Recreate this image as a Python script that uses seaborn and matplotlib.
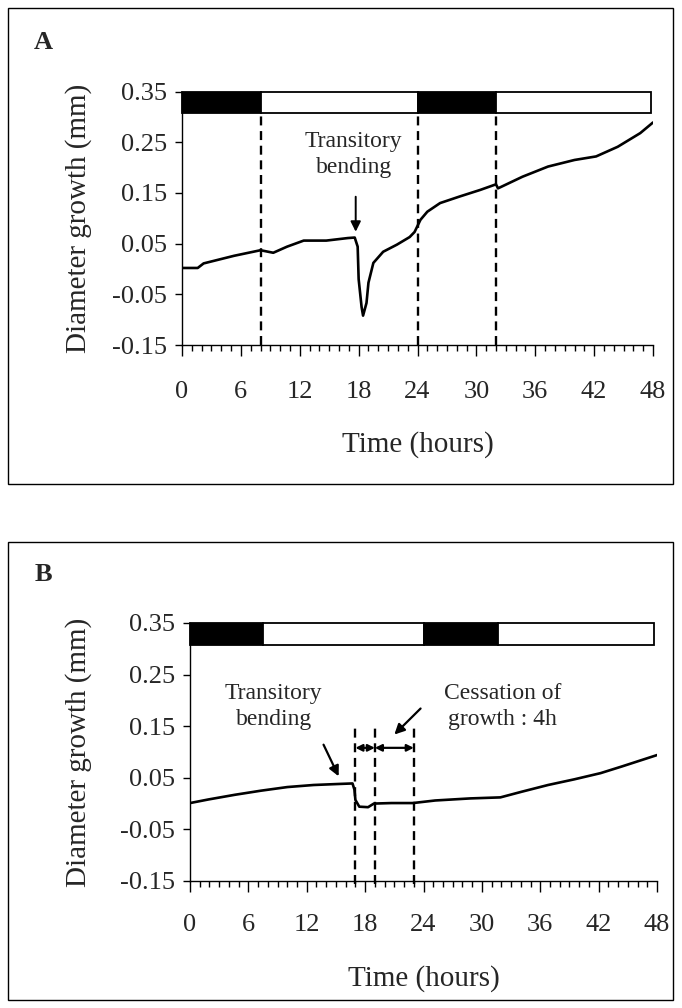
"""Diameter growth after transitory bending - two panels (A, B)"""
import matplotlib
matplotlib.use("Agg")
import matplotlib.pyplot as plt
from matplotlib.patches import Rectangle
from matplotlib.ticker import MultipleLocator
import seaborn as sns
import pandas as pd

# ---- data ----
# Panel A
hours_a = [0, 1.6, 2.2, 5.3, 8.0, 9.3, 10.7, 12.4, 14.7, 16.9, 17.6, 17.9,
           18.0, 18.3, 18.45, 18.8, 19.0, 19.5, 20.5, 21.9, 23.2, 23.7, 24.3,
           25.0, 26.3, 28.3, 30.4, 32.0, 32.2, 34.7, 37.3, 40.0, 42.2, 44.4,
           46.7, 48.0]
growth_a = [0.002, 0.002, 0.011, 0.026, 0.037, 0.032, 0.044, 0.056, 0.056,
            0.061, 0.062, 0.044, -0.020, -0.075, -0.092, -0.067, -0.027,
            0.012, 0.034, 0.048, 0.063, 0.073, 0.097, 0.113, 0.130, 0.143,
            0.156, 0.167, 0.159, 0.182, 0.202, 0.215, 0.222, 0.241, 0.268,
            0.289]
period_edges_a = [0, 8, 24, 32, 47.8]
period_dark_a = [True, False, True, False]
dashed_a = [8, 24, 32]

# Panel B
hours_b = [0, 1.9, 4.6, 7.3, 10.0, 12.7, 15.3, 16.7, 16.9, 17.0, 17.4, 18.3,
           18.9, 20.7, 22.9, 25.2, 28.8, 31.9, 34.1, 36.8, 39.5, 42.2, 44.4,
           46.2, 48.0]
growth_b = [0.001, 0.008, 0.017, 0.025, 0.032, 0.036, 0.038, 0.039, 0.027,
            0.007, -0.006, -0.007, 0.0, 0.001, 0.001, 0.006, 0.010, 0.012,
            0.023, 0.036, 0.047, 0.059, 0.072, 0.083, 0.094]
period_edges_b = [0, 7.5, 24, 31.7, 47.7]
period_dark_b = [True, False, True, False]
dashed_b = [17, 19, 23]

yticks = [-0.15, -0.05, 0.05, 0.15, 0.25, 0.35]
ytick_labels = ["-0.15", "-0.05", "0.05", "0.15", "0.25", "0.35"]
xticks = [0, 6, 12, 18, 24, 30, 36, 42, 48]

sns.set_theme(style="ticks")
plt.rcParams["font.family"] = ["Liberation Serif", "DejaVu Serif"]
plt.rcParams["axes.linewidth"] = 1.0

fig = plt.figure(figsize=(6.82, 10.08), dpi=100)

# outer frames
for y0, h in [(0.5198, 0.4722), (0.0079, 0.4544)]:
    fig.add_artist(Rectangle((0.0117, y0), 0.975, h, transform=fig.transFigure,
                             fill=False, lw=1.0, ec="black"))

ax_a = fig.add_axes([0.2669, 0.6577, 0.6906, 0.2515])
ax_b = fig.add_axes([0.2786, 0.1260, 0.6848, 0.2560])


def draw_panel(ax, hours, growth, edges, dark, dashed, dash_bottom, dash_top, xpad):
    df = pd.DataFrame({"Time": hours, "Growth": growth})
    sns.lineplot(data=df, x="Time", y="Growth", ax=ax, color="black", lw=1.9,
                 sort=False)
    # photoperiod bar
    for i, is_dark in enumerate(dark):
        ax.bar(edges[i], 0.043, width=edges[i + 1] - edges[i], bottom=0.307,
               align="edge", color="black" if is_dark else "white",
               edgecolor="black", lw=1.3, clip_on=False, zorder=3)
    for xd in dashed:
        ax.plot([xd, xd], [dash_bottom, dash_top], color="black", lw=1.7,
                ls=(0, (3.8, 2.4)), clip_on=False)
    ax.set_xlim(0, 48)
    ax.set_ylim(-0.15, 0.35)
    ax.set_xticks(xticks)
    ax.xaxis.set_minor_locator(MultipleLocator(1))
    ax.set_yticks(yticks)
    ax.set_yticklabels(ytick_labels)
    ax.tick_params(axis="x", which="major", length=8, width=1.0, pad=xpad,
                   labelsize=19, color="black")
    ax.tick_params(axis="x", which="minor", length=4, width=1.0, color="black")
    ax.tick_params(axis="y", length=5, width=1.0, pad=6, labelsize=19,
                   color="black")
    sns.despine(ax=ax)
    ax.spines["left"].set_color("black")
    ax.spines["bottom"].set_color("black")
    ax.set_xlabel("Time (hours)", fontsize=21)
    ax.set_ylabel("Diameter growth (mm)", fontsize=21)


draw_panel(ax_a, hours_a, growth_a, period_edges_a, period_dark_a, dashed_a,
           -0.15, 0.307, 18)
draw_panel(ax_b, hours_b, growth_b, period_edges_b, period_dark_b, dashed_b,
           -0.155, 0.15, 16)

ax_a.xaxis.set_label_coords(0.5, -0.34)
ax_a.yaxis.set_label_coords(-0.191, 0.5)
ax_b.xaxis.set_label_coords(0.5, -0.325)
ax_b.yaxis.set_label_coords(-0.21, 0.5)

# panel letters
fig.text(0.063, 0.958, "A", fontsize=19, fontweight="bold", ha="center", va="center")
fig.text(0.063, 0.430, "B", fontsize=19, fontweight="bold", ha="center", va="center")

# annotations panel A
ax_a.text(17.5, 0.226, "Transitory\nbending", ha="center", va="center",
          fontsize=17, linespacing=1.3)
ax_a.annotate("", xy=(17.7, 0.068), xytext=(17.7, 0.148),
              arrowprops=dict(arrowstyle="-|>", color="black", lw=1.4,
                              mutation_scale=15))

# annotations panel B
ax_b.text(8.6, 0.188, "Transitory\nbending", ha="center", va="center",
          fontsize=17, linespacing=1.3)
ax_b.annotate("", xy=(15.4, 0.048), xytext=(13.6, 0.119),
              arrowprops=dict(arrowstyle="-|>", color="black", lw=1.6,
                              mutation_scale=15))
ax_b.text(32.1, 0.188, "Cessation of\ngrowth : 4h", ha="center", va="center",
          fontsize=17, linespacing=1.3)
ax_b.annotate("", xy=(20.8, 0.130), xytext=(23.9, 0.188),
              arrowprops=dict(arrowstyle="-|>", color="black", lw=1.6,
                              mutation_scale=15))
for x0, x1 in [(dashed_b[0], dashed_b[1]), (dashed_b[1], dashed_b[2])]:
    ax_b.annotate("", xy=(x1, 0.108), xytext=(x0, 0.108),
                  arrowprops=dict(arrowstyle="<|-|>", color="black", lw=1.6,
                                  mutation_scale=10, shrinkA=0, shrinkB=0))

fig.savefig("out.png", dpi=100)
plt.close(fig)
